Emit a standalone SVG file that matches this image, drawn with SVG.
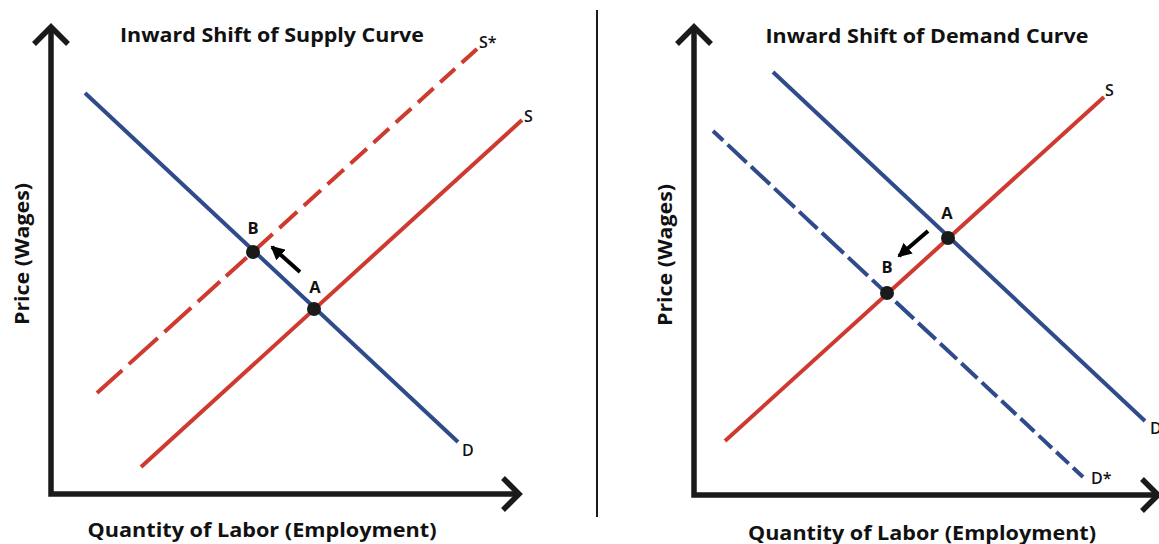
<svg xmlns="http://www.w3.org/2000/svg" width="1159" height="544" viewBox="0 0 1159 544">
  <style>
    .bg { fill: #ffffff; }
    .axis { fill: none; stroke: #1a1a1a; stroke-width: 5.5; stroke-linejoin: miter; stroke-linecap: butt; }
    .divider { stroke: #1a1a1a; stroke-width: 2; }
    .red { fill: none; stroke: #cf3a30; stroke-width: 4; }
    .blue { fill: none; stroke: #2f4b8b; stroke-width: 4; }
    .dot { fill: #1a1a1a; }
    .move { stroke: #000000; stroke-width: 4; fill: none; }
    .title { font-family: 'Open Sans', 'Liberation Sans', sans-serif; font-weight: 700; font-size: 20px; fill: #111111; }
    .axislabel { font-family: 'Open Sans', 'Liberation Sans', sans-serif; font-weight: 700; font-size: 20px; fill: #111111; }
    .pt { font-family: 'Open Sans', 'Liberation Sans', sans-serif; font-weight: 700; font-size: 16.5px; fill: #111111; text-anchor: middle; }
    .cl { font-family: 'Open Sans', 'Liberation Sans', sans-serif; font-weight: 600; font-size: 16px; fill: #111111; }
  </style>
  <defs>
    <marker id="head" markerUnits="userSpaceOnUse" markerWidth="14" markerHeight="14" viewBox="0 0 14 14" refX="12" refY="7" orient="auto">
      <path d="M0,0 L14,7 L0,14 Z" fill="#000000"/>
    </marker>
  </defs>
  <rect class="bg" x="0" y="0" width="1159" height="544"/>

  <!-- divider -->
  <line class="divider" x1="597" y1="10" x2="597" y2="517"/>

  <!-- LEFT PANEL -->
  <g id="left-axes">
    <polyline class="axis" points="51,27 51,494 519,494"/>
    <polyline class="axis" points="34,44 51,27 68,44"/>
    <polyline class="axis" points="503,478 519,494 503,510"/>
  </g>
  <g id="left-texts">
    <text class="title" x="272" y="42" text-anchor="middle" textLength="304" lengthAdjust="spacingAndGlyphs">Inward Shift of Supply Curve</text>
    <text class="axislabel" transform="translate(29,254) rotate(-90)" text-anchor="middle" textLength="142" lengthAdjust="spacingAndGlyphs">Price (Wages)</text>
    <text class="axislabel" x="262" y="537" text-anchor="middle" textLength="349" lengthAdjust="spacingAndGlyphs">Quantity of Labor (Employment)</text>
  </g>
  <g id="left-curves">
    <line id="left-S-star" class="red" x1="97" y1="393" x2="477" y2="49" stroke-dasharray="34 9 39 9 36 9 30 8 28 9 26 9 24 9 23 9 22 9 22 9 21 9 21 9 21 9 20 9 22 9"/>
    <line id="left-S" class="red" x1="141" y1="467" x2="522" y2="120"/>
    <line id="left-D" class="blue" x1="85" y1="93" x2="458" y2="442"/>
    <line id="left-move" class="move" x1="300" y1="272" x2="272" y2="247" marker-end="url(#head)"/>
  </g>
  <g id="left-B">
    <circle class="dot" cx="253" cy="252" r="7"/>
    <text class="pt" x="253" y="234">B</text>
  </g>
  <g id="left-A">
    <circle class="dot" cx="314" cy="309" r="7"/>
    <text class="pt" x="315" y="293">A</text>
  </g>
  <g id="left-curve-labels">
    <text class="cl" x="479" y="48">S*</text>
    <text class="cl" x="524" y="122">S</text>
    <text class="cl" x="462" y="456">D</text>
  </g>

  <!-- RIGHT PANEL -->
  <g id="right-axes">
    <polyline class="axis" points="694,27 694,495 1158,495"/>
    <polyline class="axis" points="677,44 694,27 711,44"/>
    <polyline class="axis" points="1142,479 1158,495 1142,511"/>
  </g>
  <g id="right-texts">
    <text class="title" x="927" y="43" text-anchor="middle" textLength="323" lengthAdjust="spacingAndGlyphs">Inward Shift of Demand Curve</text>
    <text class="axislabel" transform="translate(672,255) rotate(-90)" text-anchor="middle" textLength="142" lengthAdjust="spacingAndGlyphs">Price (Wages)</text>
    <text class="axislabel" x="922" y="540" text-anchor="middle" textLength="348" lengthAdjust="spacingAndGlyphs">Quantity of Labor (Employment)</text>
  </g>
  <g id="right-curves">
    <line id="right-D-star" class="blue" x1="713" y1="131" x2="1083" y2="477" stroke-dasharray="14 6 26 6 26 6 28 6 25 6 30 6 27 6 26 6 25 6 24 6 23 6 22 6 21 6 20 6 19 6 18 6 17 6 16 6"/>
    <line id="right-D" class="blue" x1="773" y1="72" x2="1145" y2="421"/>
    <line id="right-S" class="red" x1="725" y1="441" x2="1104" y2="97"/>
    <line id="right-move" class="move" x1="928" y1="231" x2="899" y2="256" marker-end="url(#head)"/>
  </g>
  <g id="right-A">
    <circle class="dot" cx="948" cy="238" r="7"/>
    <text class="pt" x="947" y="219">A</text>
  </g>
  <g id="right-B">
    <circle class="dot" cx="887" cy="293" r="7"/>
    <text class="pt" x="887" y="273">B</text>
  </g>
  <g id="right-curve-labels">
    <text class="cl" x="1105" y="96">S</text>
    <text class="cl" x="1150" y="434">D</text>
    <text class="cl" x="1091" y="484">D*</text>
  </g>
</svg>
